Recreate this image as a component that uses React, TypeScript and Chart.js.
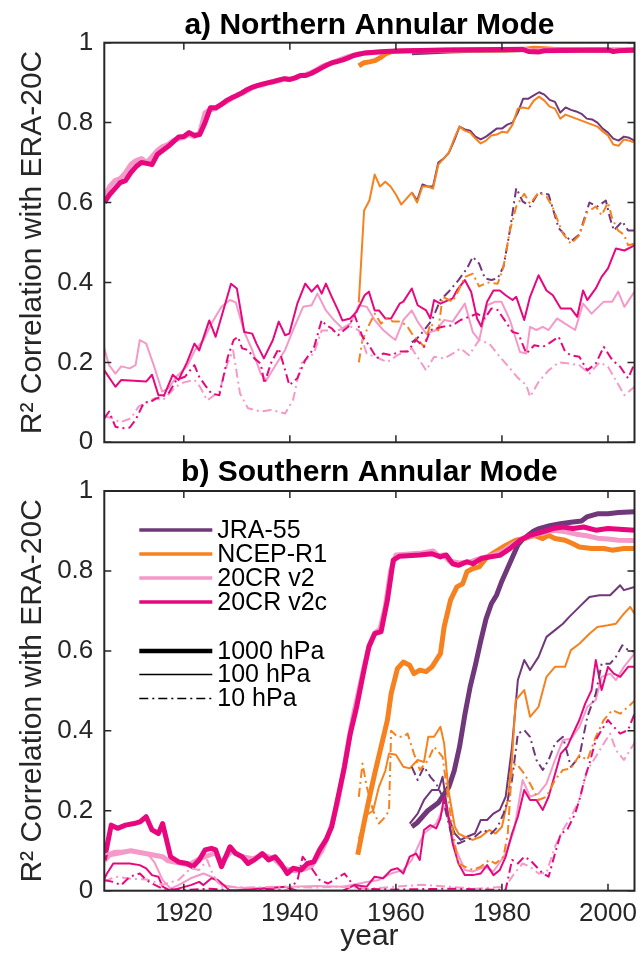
import React, { useEffect, useRef } from 'react';
import { Chart, registerables } from 'chart.js';

Chart.register(...registerables);

type Pt = [number, number];

const X_MIN = 1905;
const X_MAX = 2005;
const X_TICKS = [1920, 1940, 1960, 1980, 2000];
const Y_TICKS = [0, 0.2, 0.4, 0.6, 0.8, 1];
const Y_LABEL = 'R² Correlation with ERA-20C';
const X_LABEL = 'year';
const TITLE_A = 'a) Northern Annular Mode';
const TITLE_B = 'b) Southern Annular Mode';
const REANALYSES = ['JRA-55', 'NCEP-R1', '20CR v2', '20CR v2c'];
const LEVELS = ['1000 hPa', '100 hPa', '10 hPa'];

const C_JRA = '#70387a';
const C_NCEP = '#f6821f';
const C_V2 = '#f59ac8';
const C_V2C = '#e8087e';
const COLORS = [C_JRA, C_NCEP, C_V2, C_V2C];

// ---------- a) Northern Annular Mode ----------
const NAM_JRA_1000: Pt[] = [[1963,0.975],[1966,0.977],[1970,0.979],[1975,0.981],[1980,0.982],[1985,0.983],[1990,0.983],[1995,0.982],[2000,0.981],[2005,0.981]];
const NAM_NCEP_1000: Pt[] = [[1953,0.942],[1954,0.95],[1955,0.952],[1956,0.955],[1957,0.962],[1958,0.972],[1959,0.977],[1960,0.979],[1965,0.98],[1970,0.981],[1975,0.982],[1980,0.982],[1984,0.983],[1986,0.986],[1988,0.985],[1990,0.983],[1995,0.982],[2000,0.981],[2005,0.981]];
const NAM_V2_1000: Pt[] = [[1905,0.615],[1906,0.64],[1907,0.655],[1908,0.66],[1909,0.675],[1910,0.695],[1911,0.705],[1912,0.71],[1913,0.7],[1914,0.715],[1915,0.73],[1916,0.74],[1917,0.745],[1918,0.755],[1919,0.76],[1920,0.763],[1921,0.77],[1922,0.765],[1923,0.775],[1924,0.825],[1925,0.832],[1926,0.835],[1927,0.845],[1928,0.852],[1929,0.86],[1930,0.868],[1931,0.873],[1932,0.88],[1933,0.888],[1934,0.893],[1935,0.895],[1936,0.9],[1937,0.903],[1938,0.905],[1939,0.91],[1940,0.908],[1941,0.912],[1942,0.918],[1943,0.92],[1944,0.925],[1945,0.932],[1946,0.94],[1947,0.945],[1948,0.95],[1949,0.955],[1950,0.96],[1951,0.965],[1952,0.968],[1953,0.972],[1955,0.975],[1958,0.978],[1962,0.98],[1970,0.982],[1980,0.983],[1984,0.984],[1986,0.979],[1988,0.981],[1995,0.982],[2000,0.981],[2005,0.982]];
const NAM_V2C_1000: Pt[] = [[1905,0.6],[1906,0.62],[1907,0.635],[1908,0.65],[1909,0.655],[1910,0.675],[1911,0.69],[1912,0.7],[1913,0.698],[1914,0.695],[1915,0.72],[1916,0.73],[1917,0.74],[1918,0.752],[1919,0.764],[1920,0.765],[1921,0.775],[1922,0.768],[1923,0.77],[1924,0.8],[1925,0.837],[1926,0.837],[1927,0.845],[1928,0.855],[1929,0.862],[1930,0.868],[1931,0.875],[1932,0.883],[1933,0.889],[1934,0.893],[1935,0.897],[1936,0.9],[1937,0.903],[1938,0.907],[1939,0.91],[1940,0.908],[1941,0.912],[1942,0.918],[1943,0.918],[1944,0.923],[1945,0.93],[1946,0.937],[1947,0.944],[1948,0.95],[1949,0.953],[1950,0.957],[1951,0.962],[1952,0.968],[1953,0.971],[1954,0.974],[1956,0.976],[1958,0.978],[1962,0.98],[1970,0.982],[1980,0.983],[1984,0.983],[1985,0.978],[1987,0.977],[1988,0.98],[1995,0.981],[2000,0.982],[2001,0.978],[2002,0.98],[2005,0.982]];

const NAM_JRA_100: Pt[] = [[1963,0.625],[1964,0.605],[1965,0.645],[1966,0.64],[1967,0.64],[1968,0.7],[1969,0.71],[1970,0.725],[1971,0.755],[1972,0.79],[1973,0.783],[1974,0.78],[1975,0.765],[1976,0.758],[1977,0.765],[1978,0.775],[1979,0.785],[1980,0.785],[1981,0.795],[1982,0.8],[1983,0.825],[1984,0.86],[1985,0.86],[1986,0.868],[1987,0.876],[1988,0.87],[1989,0.857],[1990,0.852],[1991,0.825],[1992,0.838],[1993,0.832],[1994,0.828],[1995,0.822],[1996,0.81],[1997,0.808],[1998,0.8],[1999,0.785],[2000,0.775],[2001,0.76],[2002,0.755],[2003,0.765],[2004,0.762],[2005,0.755]];
const NAM_NCEP_100: Pt[] = [[1953,0.35],[1954,0.58],[1955,0.605],[1956,0.67],[1957,0.64],[1958,0.652],[1959,0.64],[1960,0.62],[1961,0.595],[1962,0.61],[1963,0.625],[1964,0.6],[1965,0.64],[1966,0.64],[1967,0.635],[1968,0.695],[1969,0.71],[1970,0.725],[1971,0.76],[1972,0.79],[1973,0.78],[1974,0.775],[1975,0.76],[1976,0.748],[1977,0.755],[1978,0.768],[1979,0.77],[1980,0.777],[1981,0.775],[1982,0.795],[1983,0.835],[1984,0.838],[1985,0.835],[1986,0.855],[1987,0.865],[1988,0.855],[1989,0.84],[1990,0.835],[1991,0.81],[1992,0.82],[1993,0.815],[1994,0.81],[1995,0.805],[1996,0.8],[1997,0.795],[1998,0.79],[1999,0.778],[2000,0.768],[2001,0.745],[2002,0.742],[2003,0.758],[2004,0.755],[2005,0.75]];
const NAM_V2_100: Pt[] = [[1905,0.235],[1905.9,0.193],[1907.1,0.172],[1908.2,0.19],[1909.8,0.185],[1910.9,0.193],[1911.7,0.256],[1912.9,0.247],[1914.4,0.19],[1915.9,0.127],[1917.1,0.135],[1918.6,0.164],[1920.6,0.19],[1922.1,0.231],[1923.7,0.256],[1925.2,0.297],[1927.1,0.339],[1928.7,0.356],[1929.8,0.35],[1931.4,0.276],[1932.9,0.231],[1934.5,0.172],[1935.6,0.156],[1937.5,0.197],[1939.1,0.231],[1940.6,0.281],[1942.5,0.339],[1944.1,0.343],[1945.2,0.372],[1946.8,0.33],[1948.3,0.306],[1949.9,0.285],[1951.4,0.297],[1953,0.343],[1954.5,0.339],[1956,0.306],[1957.6,0.281],[1959.1,0.264],[1959.9,0.256],[1961.4,0.306],[1963,0.33],[1964.1,0.302],[1965.7,0.272],[1967.6,0.281],[1969.1,0.306],[1970.7,0.302],[1973,0.347],[1974.5,0.276],[1975.7,0.256],[1977.2,0.343],[1978.8,0.352],[1979.9,0.352],[1981.5,0.306],[1983.4,0.226],[1984.6,0.222],[1985.3,0.289],[1986.5,0.281],[1987.7,0.289],[1988.8,0.281],[1990.4,0.31],[1991.9,0.297],[1993.8,0.281],[1995.3,0.347],[1996.9,0.322],[1999.2,0.352],[2000.8,0.352],[2001.9,0.377],[2003.1,0.339],[2005,0.377]];
const NAM_V2C_100: Pt[] = [[1905,0.18],[1907.1,0.139],[1908.2,0.156],[1910.6,0.154],[1912.9,0.152],[1914,0.169],[1915.2,0.118],[1916.3,0.118],[1917.9,0.169],[1919,0.156],[1920.6,0.2],[1922,0.247],[1922.9,0.23],[1924.8,0.305],[1926,0.264],[1927.1,0.314],[1928.9,0.397],[1930,0.385],[1931.4,0.276],[1932.9,0.272],[1933.7,0.247],[1935.1,0.21],[1936.8,0.256],[1937.9,0.302],[1939.1,0.268],[1939.9,0.272],[1941.4,0.347],[1942.9,0.397],[1944.1,0.377],[1945.2,0.393],[1946,0.372],[1946.8,0.397],[1947.9,0.364],[1949.1,0.33],[1949.9,0.305],[1951.4,0.31],[1952.6,0.327],[1954.1,0.368],[1954.9,0.377],[1956,0.33],[1956.8,0.33],[1958,0.31],[1959.1,0.31],[1960.7,0.347],[1961.4,0.352],[1963,0.385],[1964.1,0.343],[1965.7,0.33],[1966.5,0.31],[1967.2,0.356],[1968.4,0.347],[1970.7,0.36],[1971.5,0.38],[1973,0.406],[1974.2,0.376],[1975.3,0.31],[1976.1,0.29],[1977.2,0.352],[1978.4,0.38],[1979.6,0.38],[1980.7,0.368],[1982,0.356],[1982.7,0.364],[1984.2,0.306],[1985.3,0.364],[1986.9,0.418],[1988.4,0.38],[1989.6,0.368],[1991.1,0.335],[1993,0.335],[1994.2,0.314],[1995.3,0.38],[1996.1,0.356],[1997.7,0.385],[1998.8,0.414],[2000,0.435],[2001.5,0.485],[2003.1,0.48],[2005,0.493]];

const NAM_JRA_10: Pt[] = [[1963,0.25],[1964,0.26],[1965.3,0.28],[1966.8,0.306],[1968.4,0.356],[1969.9,0.376],[1971.8,0.406],[1973.4,0.435],[1974.5,0.464],[1975.7,0.447],[1976.8,0.41],[1978,0.406],[1979.2,0.41],[1980.3,0.44],[1981.5,0.53],[1982.7,0.636],[1983.9,0.603],[1985.3,0.59],[1986.9,0.625],[1988.8,0.62],[1990.7,0.536],[1993,0.503],[1994.6,0.52],[1996.5,0.6],[1998,0.59],[1999.6,0.605],[2000.4,0.56],[2001.1,0.53],[2002.7,0.553],[2003.8,0.53],[2005,0.53]];
const NAM_NCEP_10: Pt[] = [[1953,0.2],[1953.7,0.256],[1954.9,0.293],[1956,0.322],[1957.2,0.297],[1958.4,0.31],[1959.5,0.302],[1961,0.302],[1962.2,0.289],[1963.4,0.264],[1964.5,0.252],[1965.3,0.239],[1966.5,0.297],[1968,0.28],[1968.8,0.364],[1970.7,0.352],[1971.8,0.38],[1973,0.414],[1974.5,0.422],[1975.7,0.39],[1977.2,0.4],[1979.2,0.397],[1980.3,0.44],[1981.5,0.53],[1982.7,0.59],[1984.2,0.622],[1985.3,0.597],[1986.9,0.625],[1988.4,0.615],[1989.5,0.59],[1991.5,0.522],[1993,0.497],[1994.6,0.518],[1996.1,0.576],[1997.7,0.59],[1998.8,0.568],[2000,0.6],[2000.8,0.56],[2001.9,0.53],[2003,0.52],[2003.8,0.493],[2005,0.497]];
const NAM_V2_10: Pt[] = [[1905,0.065],[1906.5,0.06],[1908,0.05],[1910,0.06],[1911.5,0.09],[1913,0.1],[1914.5,0.11],[1916,0.105],[1917.1,0.12],[1918.6,0.14],[1920,0.15],[1922,0.156],[1923,0.14],[1924.4,0.105],[1926.7,0.127],[1928.3,0.2],[1929.3,0.23],[1930.6,0.122],[1932.1,0.085],[1934.5,0.077],[1936.4,0.081],[1939.1,0.072],[1940.6,0.106],[1942.1,0.197],[1944.5,0.222],[1946,0.28],[1949,0.28],[1951.4,0.29],[1953,0.28],[1954.5,0.222],[1956,0.214],[1958.4,0.201],[1960.3,0.218],[1963,0.235],[1965.7,0.18],[1967.2,0.214],[1969.1,0.21],[1970.7,0.222],[1972.2,0.235],[1973.8,0.218],[1975.7,0.256],[1977.6,0.247],[1979.6,0.214],[1981.5,0.185],[1983.1,0.16],[1984.6,0.143],[1985.3,0.114],[1986.9,0.151],[1988.8,0.18],[1990.7,0.2],[1992.7,0.197],[1994.6,0.193],[1996.5,0.172],[1998.4,0.2],[2000,0.189],[2001.1,0.164],[2003.1,0.118],[2005,0.139]];
const NAM_V2C_10: Pt[] = [[1905,0.06],[1905.9,0.077],[1907.1,0.039],[1908.2,0.035],[1909.8,0.037],[1910.9,0.056],[1912.5,0.1],[1913.6,0.1],[1914.8,0.11],[1915.9,0.114],[1917.1,0.122],[1918.6,0.156],[1920.2,0.164],[1922,0.193],[1922.9,0.164],[1924,0.143],[1925.2,0.122],[1926.7,0.118],[1928.3,0.214],[1929.4,0.256],[1930.2,0.264],[1931,0.235],[1932.1,0.231],[1933.3,0.21],[1934.5,0.197],[1935.2,0.147],[1936.4,0.197],[1937.9,0.235],[1939.1,0.181],[1939.9,0.143],[1941.4,0.16],[1942.9,0.206],[1944.5,0.235],[1946,0.306],[1946.8,0.293],[1947.9,0.285],[1949.1,0.268],[1951,0.289],[1952.2,0.318],[1953.7,0.264],[1954.9,0.243],[1956.4,0.21],[1957.6,0.222],[1959.1,0.218],[1960.7,0.227],[1962.2,0.227],[1963.8,0.256],[1965.3,0.239],[1966.5,0.281],[1968.8,0.289],[1970.7,0.293],[1972.2,0.306],[1973.8,0.314],[1975.3,0.322],[1976.8,0.31],[1978,0.335],[1979.2,0.331],[1980.7,0.302],[1982,0.276],[1983.1,0.272],[1984.6,0.222],[1986.1,0.243],[1987.7,0.239],[1988.8,0.247],[1990.7,0.264],[1991.9,0.227],[1993,0.218],[1994.6,0.214],[1996.1,0.18],[1997.7,0.197],[1999.2,0.239],[2000.8,0.206],[2002.3,0.189],[2003.8,0.16],[2005,0.197]];

// ---------- b) Southern Annular Mode ----------
const SAM_JRA_1000: Pt[] = [[1963,0.16],[1964,0.17],[1965,0.185],[1966,0.2],[1967,0.21],[1968,0.22],[1969,0.24],[1970,0.26],[1971,0.3],[1972,0.36],[1973,0.44],[1974,0.51],[1975,0.565],[1976,0.625],[1977,0.68],[1978,0.718],[1979,0.74],[1980,0.775],[1981,0.805],[1982,0.835],[1983,0.865],[1984,0.88],[1985,0.89],[1986,0.9],[1987,0.906],[1989,0.913],[1991,0.918],[1993,0.922],[1995,0.925],[1996,0.935],[1998,0.943],[2000,0.943],[2002,0.946],[2005,0.948]];
const SAM_NCEP_1000: Pt[] = [[1952.8,0.09],[1954.1,0.177],[1954.9,0.227],[1956,0.293],[1957.2,0.36],[1958.4,0.427],[1959.1,0.493],[1960.3,0.556],[1961.4,0.572],[1962.6,0.564],[1963.4,0.543],[1964.5,0.552],[1965.7,0.548],[1966.8,0.56],[1968.4,0.593],[1969.1,0.66],[1970.3,0.727],[1971.5,0.76],[1972.6,0.768],[1973.4,0.798],[1974.5,0.806],[1975.7,0.81],[1977.2,0.835],[1978.8,0.848],[1980.7,0.864],[1982.6,0.877],[1984.2,0.881],[1986.1,0.889],[1987.7,0.881],[1988.8,0.889],[1990,0.881],[1991.9,0.877],[1993.4,0.868],[1994.6,0.86],[1996.9,0.856],[1999.2,0.856],[2000.8,0.852],[2003,0.856],[2005,0.856]];
const SAM_V2_1000: Pt[] = [[1905,0.075],[1906,0.09],[1908,0.095],[1910,0.1],[1912,0.095],[1914,0.09],[1916,0.085],[1917,0.075],[1919,0.07],[1921,0.065],[1923,0.08],[1925,0.09],[1926,0.095],[1927,0.07],[1929,0.1],[1931,0.085],[1933,0.08],[1935,0.09],[1937,0.08],[1939,0.055],[1941,0.05],[1943,0.055],[1944,0.06],[1945,0.08],[1946,0.1],[1947,0.13],[1948,0.17],[1949,0.22],[1950,0.29],[1951,0.37],[1952,0.44],[1953,0.5],[1954,0.56],[1955,0.615],[1956,0.645],[1957,0.655],[1958,0.71],[1959,0.8],[1960,0.84],[1962,0.842],[1965,0.845],[1967,0.85],[1968,0.838],[1969,0.84],[1970,0.825],[1972,0.82],[1974,0.823],[1976,0.832],[1978,0.838],[1980,0.848],[1982,0.866],[1984,0.882],[1986,0.89],[1988,0.897],[1990,0.902],[1992,0.898],[1994,0.892],[1996,0.888],[1998,0.882],[2000,0.88],[2002,0.877],[2005,0.876]];
const SAM_V2C_1000: Pt[] = [[1905,0.077],[1906.3,0.164],[1907.5,0.156],[1909,0.164],[1910.6,0.168],[1911.7,0.172],[1912.9,0.185],[1914,0.152],[1915.2,0.143],[1916,0.168],[1917.5,0.085],[1919,0.072],[1920.6,0.068],[1921.7,0.06],[1922.9,0.077],[1924,0.102],[1925.2,0.106],[1926,0.102],[1927.1,0.06],[1928.7,0.11],[1929.8,0.093],[1931,0.085],[1932.1,0.068],[1933.3,0.077],[1934.8,0.093],[1936,0.077],[1937.2,0.085],[1938.3,0.068],[1939.5,0.043],[1940.6,0.056],[1942.1,0.052],[1943.3,0.068],[1944.5,0.072],[1945.6,0.102],[1946.8,0.127],[1947.9,0.16],[1949.1,0.235],[1950.3,0.31],[1951.4,0.393],[1952.6,0.46],[1953.2,0.5],[1954.1,0.56],[1954.9,0.61],[1956,0.643],[1957.2,0.648],[1958.4,0.727],[1959.5,0.827],[1960.7,0.837],[1962.2,0.838],[1964.5,0.84],[1966.8,0.843],[1968.4,0.835],[1969.5,0.84],[1970.7,0.818],[1971.8,0.814],[1973.4,0.823],[1974.5,0.818],[1976.1,0.831],[1977.6,0.835],[1979.6,0.839],[1981.5,0.856],[1983.4,0.877],[1985.3,0.889],[1987.7,0.898],[1989.6,0.906],[1991.5,0.91],[1993.4,0.906],[1995.4,0.91],[1997.7,0.902],[2000,0.906],[2005,0.902]];

const SAM_JRA_100: Pt[] = [[1962.6,0.168],[1964.1,0.193],[1965.3,0.227],[1966.8,0.252],[1968,0.252],[1968.8,0.285],[1969.9,0.185],[1971.1,0.143],[1972.2,0.127],[1973.4,0.135],[1974.9,0.143],[1976,0.177],[1977.2,0.177],[1978.4,0.193],[1979.6,0.202],[1980.7,0.235],[1981.9,0.36],[1983,0.527],[1984.2,0.577],[1985.3,0.552],[1986.9,0.585],[1988.4,0.635],[1990,0.652],[1991.5,0.668],[1992.7,0.685],[1994.6,0.71],[1996.5,0.735],[1998.4,0.739],[2000.4,0.739],[2002.3,0.764],[2003,0.752],[2005,0.76]];
const SAM_NCEP_100: Pt[] = [[1953,0.13],[1954.5,0.19],[1955.7,0.2],[1956.8,0.26],[1958,0.3],[1958.7,0.343],[1960,0.34],[1961.4,0.31],[1962.6,0.306],[1964.1,0.327],[1965.3,0.322],[1966.1,0.385],[1967.2,0.385],[1968.4,0.41],[1969.1,0.368],[1969.9,0.252],[1971.1,0.16],[1971.8,0.143],[1973,0.135],[1974.5,0.127],[1976,0.135],[1977.6,0.152],[1978.8,0.143],[1980,0.16],[1981.1,0.227],[1981.9,0.33],[1982.6,0.477],[1984.2,0.502],[1985.3,0.435],[1986.9,0.46],[1988.4,0.535],[1990,0.56],[1991.9,0.56],[1993,0.602],[1994.6,0.618],[1996.5,0.643],[1998,0.66],[2000,0.664],[2001.5,0.668],[2003,0.693],[2004.2,0.71],[2005,0.693]];
const SAM_V2_100: Pt[] = [[1905,0.09],[1907,0.1],[1909,0.1],[1911,0.098],[1913,0.095],[1914.5,0.07],[1916,0.027],[1917.5,0.005],[1919,0.014],[1921.3,0.031],[1923.7,0.043],[1925.2,0.035],[1927,0.015],[1930,0.008],[1935,0.005],[1940,0.01],[1945,0.012],[1950,0.01],[1954.5,0.022],[1956.8,0.027],[1959.1,0.043],[1961.4,0.052],[1963,0.077],[1965.3,0.143],[1967.6,0.168],[1969.1,0.21],[1969.9,0.177],[1971.1,0.11],[1973,0.052],[1974.5,0.048],[1976.8,0.06],[1978.4,0.048],[1980.7,0.093],[1982.3,0.152],[1983.9,0.277],[1985.3,0.235],[1986.9,0.243],[1988.4,0.268],[1990,0.327],[1991.5,0.377],[1993,0.38],[1994.6,0.41],[1996.1,0.46],[1997.7,0.477],[1998.8,0.535],[2000.4,0.543],[2001.5,0.527],[2003,0.56],[2005,0.593]];
const SAM_V2C_100: Pt[] = [[1905,0.03],[1905.5,0.043],[1906.7,0.068],[1908.2,0.068],[1909.8,0.068],[1911.7,0.064],[1912.9,0.056],[1914,0.039],[1915.2,0.035],[1916,0.01],[1917.5,0.0],[1921.3,0.014],[1922.9,0.022],[1923.7,0.014],[1925.2,0.031],[1926.4,0.027],[1927.5,0.014],[1928.7,0.0],[1939.1,0.01],[1941.4,0.0],[1950,0.0],[1952.2,0.014],[1954.5,0.01],[1956,0.035],[1957.6,0.031],[1959.1,0.052],[1960.3,0.056],[1961.4,0.043],[1962.6,0.085],[1963.8,0.093],[1964.5,0.077],[1965.3,0.152],[1966.5,0.164],[1967.6,0.156],[1968.4,0.181],[1969.1,0.235],[1969.9,0.185],[1970.7,0.118],[1971.8,0.068],[1973,0.039],[1974.5,0.039],[1976,0.043],[1977.2,0.064],[1978.4,0.039],[1979.6,0.052],[1980.7,0.085],[1981.9,0.143],[1983,0.185],[1984.2,0.252],[1985.3,0.227],[1986.5,0.227],[1987.7,0.202],[1988.8,0.235],[1990.4,0.31],[1991.1,0.343],[1992.3,0.36],[1993.4,0.393],[1994.6,0.427],[1995.7,0.468],[1996.9,0.502],[1997.7,0.577],[1998.8,0.502],[2000,0.56],[2001.1,0.543],[2002.3,0.535],[2003.8,0.56],[2005,0.56]];

const SAM_JRA_10: Pt[] = [[1963,0.31],[1964.1,0.277],[1965.3,0.31],[1966.5,0.285],[1967.6,0.268],[1968.8,0.235],[1969.5,0.193],[1970.7,0.127],[1971.8,0.118],[1973.4,0.127],[1974.9,0.135],[1976.4,0.152],[1978,0.143],[1979.2,0.16],[1980.3,0.193],[1981.1,0.227],[1981.9,0.277],[1983,0.393],[1984.2,0.402],[1985.3,0.385],[1986.5,0.327],[1987.7,0.302],[1988.8,0.327],[1990,0.368],[1991.5,0.385],[1993,0.31],[1994.6,0.335],[1996.1,0.435],[1997.7,0.493],[1998.8,0.568],[2000.4,0.568],[2001.5,0.585],[2002.7,0.614],[2003.8,0.602],[2005,0.598]];
const SAM_NCEP_10: Pt[] = [[1953,0.235],[1953.7,0.318],[1954.5,0.26],[1955.7,0.2],[1956.8,0.168],[1958,0.185],[1958.7,0.2],[1959.1,0.4],[1960.3,0.385],[1961.4,0.385],[1962.2,0.393],[1963.4,0.343],[1964.5,0.302],[1966.1,0.327],[1967.2,0.36],[1968.8,0.335],[1969.9,0.227],[1971.1,0.118],[1971.8,0.068],[1973,0.06],[1974.5,0.052],[1976,0.06],[1977.6,0.077],[1978.8,0.068],[1980.3,0.085],[1981.1,0.143],[1981.9,0.31],[1982.7,0.318],[1984.2,0.293],[1985.3,0.268],[1986.9,0.227],[1988.4,0.235],[1990,0.277],[1991.5,0.302],[1993,0.306],[1994.6,0.339],[1996.1,0.327],[1997.7,0.385],[1999.2,0.427],[2000.8,0.452],[2002.3,0.443],[2003.8,0.46],[2005,0.475]];
const SAM_V2_10: Pt[] = [[1905,0.022],[1907,0.035],[1910,0.03],[1913,0.028],[1916,0.015],[1919,0.027],[1921.3,0.056],[1922.9,0.052],[1924.4,0.077],[1925.5,0.04],[1927,0.01],[1932,0.008],[1938,0.01],[1945,0.008],[1950,0.01],[1955,0.005],[1960,0.01],[1965,0.015],[1970,0.01],[1975,0.005],[1980.7,0.01],[1982.3,0.043],[1983.9,0.068],[1985.3,0.06],[1986.9,0.043],[1988.4,0.045],[1990,0.11],[1991.5,0.152],[1993,0.185],[1994.6,0.227],[1996.1,0.302],[1997.7,0.335],[1999.2,0.368],[2000.4,0.393],[2001.5,0.352],[2003,0.327],[2005,0.37]];
const SAM_V2C_10: Pt[] = [[1905,0.027],[1906.7,0.022],[1908.2,0.014],[1909.8,0.035],[1911.7,0.043],[1912.9,0.027],[1914,0.018],[1916,0.005],[1920,0.002],[1925,0.005],[1930,0.0],[1935,0.003],[1940,0.0],[1941.5,0.03],[1942.4,0.085],[1943.5,0.068],[1945.6,0.027],[1947.2,0.018],[1950.3,0.043],[1951.5,0.022],[1953,0.005],[1960,0.003],[1970,0.005],[1980.7,0.002],[1981.9,0.077],[1983,0.068],[1984.2,0.085],[1985.3,0.077],[1986.5,0.06],[1987.7,0.043],[1988.8,0.035],[1990,0.093],[1991.1,0.143],[1992.3,0.152],[1993.8,0.193],[1994.6,0.227],[1995.7,0.285],[1996.5,0.318],[1997.7,0.377],[1998.8,0.402],[2000,0.427],[2001.1,0.41],[2002.3,0.393],[2003.8,0.402],[2005,0.443]];

const NAM_SERIES: Pt[][][] = [
  [NAM_JRA_1000, NAM_NCEP_1000, NAM_V2_1000, NAM_V2C_1000],
  [NAM_JRA_100, NAM_NCEP_100, NAM_V2_100, NAM_V2C_100],
  [NAM_JRA_10, NAM_NCEP_10, NAM_V2_10, NAM_V2C_10],
];
const SAM_SERIES: Pt[][][] = [
  [SAM_JRA_1000, SAM_NCEP_1000, SAM_V2_1000, SAM_V2C_1000],
  [SAM_JRA_100, SAM_NCEP_100, SAM_V2_100, SAM_V2C_100],
  [SAM_JRA_10, SAM_NCEP_10, SAM_V2_10, SAM_V2C_10],
];

const FONT = '"Liberation Sans", Arial, Helvetica, sans-serif';
const AXIS_COLOR = '#262626';
const LEVEL_WIDTH = [5, 2, 2];
const LEVEL_DASH: number[][] = [[], [], [9, 4, 2, 4]];

function buildDatasets(series: Pt[][][]) {
  const ds: any[] = [];
  series.forEach((lvl, li) => {
    lvl.forEach((pts, ri) => {
      ds.push({
        label: `${REANALYSES[ri]} ${LEVELS[li]}`,
        data: pts.map(([x, y]) => ({ x, y })),
        borderColor: COLORS[ri],
        borderWidth: LEVEL_WIDTH[li],
        borderDash: LEVEL_DASH[li],
        pointRadius: 0,
        fill: false,
        tension: 0,
        borderJoinStyle: 'round',
        borderCapStyle: 'butt',
      });
    });
  });
  return ds.reverse();
}

const framePlugin = {
  id: 'frame',
  afterDatasetsDraw(chart: any) {
    const { ctx, chartArea: a, scales } = chart;
    const x = scales.x, y = scales.y;
    ctx.save();
    ctx.strokeStyle = AXIS_COLOR;
    ctx.lineWidth = 1.5;
    const tl = 7;
    ctx.beginPath();
    X_TICKS.forEach((v) => {
      const px = x.getPixelForValue(v);
      ctx.moveTo(px, a.bottom); ctx.lineTo(px, a.bottom - tl);
      ctx.moveTo(px, a.top); ctx.lineTo(px, a.top + tl);
    });
    Y_TICKS.forEach((v) => {
      const py = y.getPixelForValue(v);
      ctx.moveTo(a.left, py); ctx.lineTo(a.left + tl, py);
      ctx.moveTo(a.right, py); ctx.lineTo(a.right - tl, py);
    });
    ctx.stroke();
    ctx.lineWidth = 2;
    ctx.strokeRect(a.left, a.top, a.right - a.left, a.bottom - a.top);
    ctx.restore();
  },
};

const panelTitlePlugin = {
  id: 'panelTitle',
  afterDraw(chart: any, _args: any, opts: any) {
    const { ctx, chartArea: a } = chart;
    ctx.save();
    ctx.font = `bold 30px ${FONT}`;
    ctx.fillStyle = '#000';
    ctx.textAlign = 'center';
    ctx.textBaseline = 'alphabetic';
    ctx.fillText(opts.text, (a.left + a.right) / 2, opts.y);
    ctx.restore();
  },
};

const legendPlugin = {
  id: 'customLegend',
  afterDatasetsDraw(chart: any, _args: any, opts: any) {
    if (!opts || !opts.show) return;
    const { ctx, chartArea: a } = chart;
    ctx.save();
    ctx.font = `25px ${FONT}`;
    ctx.fillStyle = '#000';
    ctx.textAlign = 'left';
    ctx.textBaseline = 'middle';
    const x1 = a.left + 35, x2 = a.left + 108, tx = a.left + 113;
    const rows = [39, 63, 87, 111];
    REANALYSES.forEach((name, i) => {
      const yy = a.top + rows[i];
      ctx.beginPath();
      ctx.strokeStyle = COLORS[i];
      ctx.lineWidth = 3.5;
      ctx.setLineDash([]);
      ctx.moveTo(x1, yy); ctx.lineTo(x2, yy); ctx.stroke();
      ctx.fillText(name, tx, yy + 1);
    });
    const rows2 = [160, 183.5, 207.5];
    LEVELS.forEach((name, i) => {
      const yy = a.top + rows2[i];
      ctx.beginPath();
      ctx.strokeStyle = '#000';
      ctx.lineWidth = LEVEL_WIDTH[i] - 0.5;
      ctx.setLineDash(LEVEL_DASH[i]);
      ctx.moveTo(x1, yy); ctx.lineTo(x2, yy); ctx.stroke();
      ctx.setLineDash([]);
      ctx.fillText(name, tx, yy + 1);
    });
    ctx.restore();
  },
};

function makeConfig(series: Pt[][][], opts: { title: string; titleY: number; top: number; xHeight: number; showX: boolean; legend: boolean }) {
  return {
    type: 'line',
    data: { datasets: buildDatasets(series) },
    options: {
      responsive: false,
      animation: false,
      devicePixelRatio: 1,
      layout: { padding: { top: opts.top, right: 6.5, left: 0, bottom: 0 } },
      plugins: {
        legend: { display: false },
        tooltip: { enabled: false },
        title: { display: false },
        panelTitle: { text: opts.title, y: opts.titleY },
        customLegend: { show: opts.legend },
      },
      scales: {
        x: {
          type: 'linear',
          min: X_MIN,
          max: X_MAX,
          afterBuildTicks: (s: any) => { s.ticks = X_TICKS.map((v) => ({ value: v })); },
          afterFit: (s: any) => { s.height = opts.xHeight; s.paddingLeft = 0; s.paddingRight = 0; },
          grid: { display: false, drawTicks: false },
          border: { display: false },
          ticks: { display: opts.showX, color: AXIS_COLOR, font: { family: FONT, size: 26 }, padding: 8, maxRotation: 0, autoSkip: false, callback: (v: any) => String(v) },
          title: { display: opts.showX, text: X_LABEL, color: AXIS_COLOR, font: { family: FONT, size: 30 }, padding: { top: 0, bottom: 4 } },
        },
        y: {
          type: 'linear',
          min: 0,
          max: 1,
          afterBuildTicks: (s: any) => { s.ticks = Y_TICKS.map((v) => ({ value: v })); },
          afterFit: (s: any) => { s.width = 104.3; s.paddingTop = 0; s.paddingBottom = 0; },
          grid: { display: false, drawTicks: false },
          border: { display: false },
          ticks: { color: AXIS_COLOR, font: { family: FONT, size: 26 }, padding: 11, callback: (v: any) => String(Math.round(v * 10) / 10) },
          title: { display: true, text: Y_LABEL, color: AXIS_COLOR, font: { family: FONT, size: 30 }, padding: { top: 15, bottom: 0 } },
        },
      },
    },
    plugins: [framePlugin, panelTitlePlugin, legendPlugin],
  };
}

export default function App() {
  const refA = useRef<HTMLCanvasElement | null>(null);
  const refB = useRef<HTMLCanvasElement | null>(null);

  useEffect(() => {
    if (!refA.current || !refB.current) return;
    const a = new Chart(refA.current, makeConfig(NAM_SERIES, { title: TITLE_A, titleY: 33.5, top: 42.7, xHeight: 22.7, showX: false, legend: false }) as any);
    const b = new Chart(refB.current, makeConfig(SAM_SERIES, { title: TITLE_B, titleY: 30.5, top: 41, xHeight: 68.3, showX: true, legend: true }) as any);
    return () => { a.destroy(); b.destroy(); };
  }, []);

  return (
    <div style={{ position: 'absolute', left: 0, top: 0, width: 641, height: 959, background: '#fff' }}>
      <canvas ref={refA} width={641} height={465} style={{ position: 'absolute', left: 0, top: 0, width: 641, height: 465 }} />
      <canvas ref={refB} width={641} height={509} style={{ position: 'absolute', left: 0, top: 450, width: 641, height: 509 }} />
    </div>
  );
}
